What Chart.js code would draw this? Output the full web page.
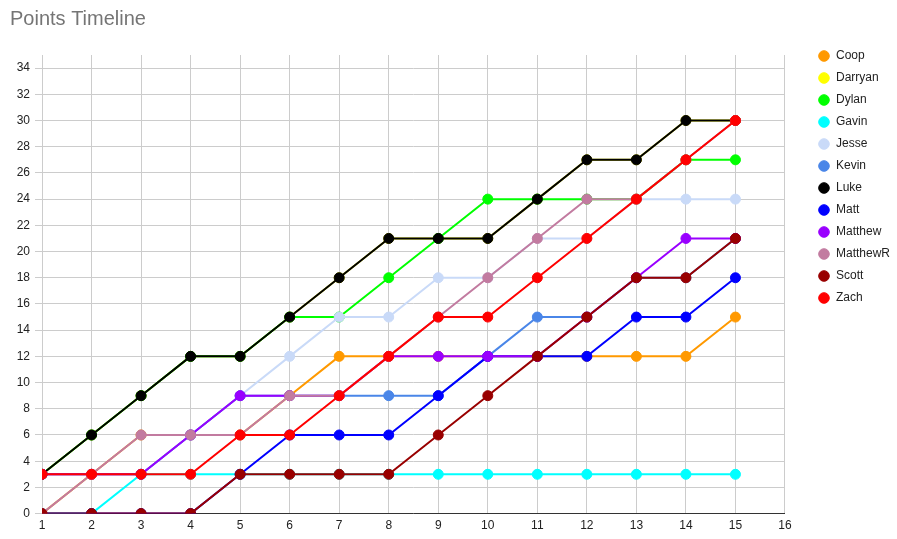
<!DOCTYPE html>
<html>
<head>
<meta charset="utf-8">
<style>
    html, body { margin: 0; padding: 0; background: #fff; }
    #wrap { width: 897px; height: 539px; }
</style>
</head>
<body>
<div id="wrap"><canvas id="pointsChart" width="897" height="539"></canvas></div>

<script src="https://cdn.jsdelivr.net/npm/chart.js@4.4.1/dist/chart.umd.min.js"></script>
<script>
    // rounds played
    const rounds = [1, 2, 3, 4, 5, 6, 7, 8, 9, 10, 11, 12, 13, 14, 15];
    const yTicks = [0, 2, 4, 6, 8, 10, 12, 14, 16, 18, 20, 22, 24, 26, 28, 30, 32, 34];

    // cumulative points per player
    const coop     = [0, 3, 6, 6, 6, 9, 12, 12, 12, 12, 12, 12, 12, 12, 15];
    const darryan  = [3, 6, 9, 12, 12, 15, 18, 21, 21, 21, 24, 27, 27, 30, 30];
    const dylan    = [3, 6, 9, 12, 12, 15, 15, 18, 21, 24, 24, 24, 24, 27, 27];
    const gavin    = [0, 0, 3, 3, 3, 3, 3, 3, 3, 3, 3, 3, 3, 3, 3];
    const jesse    = [3, 3, 3, 6, 9, 12, 15, 15, 18, 18, 21, 21, 24, 24, 24];
    const kevin    = [3, 3, 3, 6, 9, 9, 9, 9, 9, 12, 15, 15, 18, 18, 21];
    const luke     = [3, 6, 9, 12, 12, 15, 18, 21, 21, 21, 24, 27, 27, 30, 30];
    const matt     = [0, 0, 0, 0, 3, 6, 6, 6, 9, 12, 12, 12, 15, 15, 18];
    const matthew  = [3, 3, 3, 6, 9, 9, 9, 12, 12, 12, 12, 15, 18, 21, 21];
    const matthewR = [0, 3, 6, 6, 6, 9, 9, 12, 15, 18, 21, 24, 24, 27, 30];
    const scott    = [0, 0, 0, 0, 3, 3, 3, 3, 6, 9, 12, 15, 18, 18, 21];
    const zach     = [3, 3, 3, 3, 6, 6, 9, 12, 15, 15, 18, 21, 24, 27, 30];

    const players = ['Coop', 'Darryan', 'Dylan', 'Gavin', 'Jesse', 'Kevin', 'Luke', 'Matt', 'Matthew', 'MatthewR', 'Scott', 'Zach'];
    const series = [coop, darryan, dylan, gavin, jesse, kevin, luke, matt, matthew, matthewR, scott, zach];
    const colors = ['#ff9900', '#ffff00', '#00ff00', '#00ffff', '#c9daf8', '#4a86e8', '#000000', '#0000ff', '#9900ff', '#c27ba0', '#990000', '#ff0000'];

    Chart.defaults.font.family = "'Liberation Sans', Arial, sans-serif";
    Chart.defaults.font.size = 12;
    Chart.defaults.color = '#222';

    // later players are drawn on top, like the original
    const datasets = players.map((name, i) => ({
        label: name,
        data: rounds.map((r, j) => ({ x: r, y: series[i][j] })),
        borderColor: colors[i],
        backgroundColor: colors[i],
        pointBackgroundColor: colors[i],
        pointBorderColor: colors[i],
        borderWidth: 2,
        pointRadius: 5,
        pointBorderWidth: 1,
        pointHoverRadius: 5,
        tension: 0,
        fill: false,
        order: players.length - i
    }));

    new Chart(document.getElementById('pointsChart'), {
        type: 'line',
        data: { datasets: datasets },
        options: {
            responsive: false,
            animation: false,
            layout: { padding: { left: 10, right: -3, top: 0, bottom: 1 } },
            scales: {
                x: {
                    type: 'linear',
                    min: 1,
                    max: 16,
                    ticks: { stepSize: 1, padding: 5, color: '#222' },
                    grid: { color: '#cccccc', drawTicks: false },
                    border: { display: true, color: '#333333', width: 1 }
                },
                y: {
                    type: 'linear',
                    min: 0,
                    max: 35,
                    afterBuildTicks: scale => {
                        scale.ticks = yTicks.map(v => ({ value: v }));
                    },
                    afterFit: scale => { scale.width = 32; },
                    ticks: { padding: 5, color: '#222' },
                    grid: { color: '#cccccc', tickLength: 7 },
                    border: { display: false }
                },
                gap: {
                    type: 'linear',
                    position: 'right',
                    display: true,
                    ticks: { display: false },
                    grid: { display: false },
                    border: { display: false },
                    afterFit: scale => { scale.width = 23; }
                }
            },
            plugins: {
                title: {
                    display: true,
                    text: 'Points Timeline',
                    align: 'start',
                    color: '#757575',
                    font: { size: 20, weight: 'normal' },
                    padding: { top: 7, bottom: 24 }
                },
                legend: {
                    position: 'right',
                    align: 'start',
                    title: { display: true, text: '', padding: { top: 25.6, bottom: 0 } },
                    labels: {
                        usePointStyle: true,
                        pointStyle: 'circle',
                        boxWidth: 12,
                        boxHeight: 7.5,
                        padding: 10,
                        color: '#222',
                        sort: (a, b) => a.datasetIndex - b.datasetIndex
                    }
                },
                tooltip: { enabled: false }
            }
        }
    });
</script>
</body>
</html>
